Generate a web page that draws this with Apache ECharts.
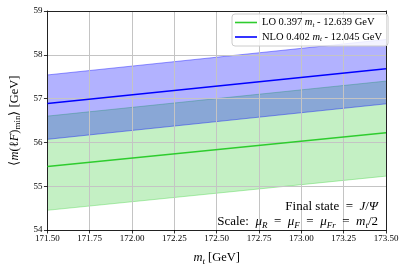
<!DOCTYPE html>
<html><head><meta charset="utf-8">
<script src="https://cdn.jsdelivr.net/npm/echarts@6/dist/echarts.min.js"></script>
<style>html,body{margin:0;padding:0;background:#fff}#c{width:407px;height:271px}</style>
</head><body><div id="c"></div>
<script>
// Data
const xVals = [171.5, 173.5];
const loCentral = [55.45, 56.22];
const loLower = [54.45, 55.23];
const loUpper = [56.60, 57.40];
const nloCentral = [56.89, 57.68];
const nloLower = [56.07, 56.88];
const nloUpper = [57.54, 58.35];
const xTicks = {min: 171.5, max: 173.5, step: 0.25};
const yTicks = {min: 54, max: 59, step: 1};

const FONT = 'Liberation Serif';
const pts = (ys) => xVals.map((x, i) => [x, ys[i]]);
const bandData = (lo, hi) => xVals.map((x, i) => [x, lo[i], hi[i]]);

function bandSeries(name, lo, hi, fill, edge) {
  return {
    name: name, type: 'custom', z: 1, silent: true,
    data: bandData(lo, hi),
    encode: {x: 0, y: [1, 2]},
    renderItem: function (params, api) {
      if (params.dataIndex !== 0) return null;
      const upper = xVals.map((x, i) => api.coord([x, hi[i]]));
      const lower = xVals.map((x, i) => api.coord([x, lo[i]])).reverse();
      return {
        type: 'group',
        children: [
          {type: 'polygon', shape: {points: upper.concat(lower)}, style: {fill: fill, stroke: null}},
          {type: 'polyline', shape: {points: upper}, style: {stroke: edge, lineWidth: 1, fill: null}},
          {type: 'polyline', shape: {points: lower}, style: {stroke: edge, lineWidth: 1, fill: null}}
        ]
      };
    }
  };
}

const rich = {
  i: {fontFamily: FONT, fontStyle: 'italic', fontSize: 13, color: '#000'},
  s: {fontFamily: FONT, fontStyle: 'italic', fontSize: 9, color: '#000', padding: [7, 0, 0, 0]}
};
const nameRich = {
  i: {fontFamily: FONT, fontStyle: 'italic', fontSize: 12.5, color: '#000'},
  s: {fontFamily: FONT, fontStyle: 'italic', fontSize: 9, color: '#000', padding: [7, 0, 0, 0]},
  r: {fontFamily: FONT, fontSize: 9, color: '#000', padding: [7, 0, 0, 0]}
};
const legRich = {
  i: {fontFamily: FONT, fontStyle: 'italic', fontSize: 10.5, color: '#000'},
  s: {fontFamily: FONT, fontStyle: 'italic', fontSize: 7, color: '#000', padding: [5, 0, 0, 0]}
};

const chart = echarts.init(document.getElementById('c'), null, {renderer: 'canvas'});
const axisCommon = {
  axisLine: {show: true, lineStyle: {color: '#222', width: 1}},
  axisTick: {show: true, inside: false, length: 3.5, lineStyle: {color: '#000', width: 0.8}},
  splitLine: {show: true, lineStyle: {color: '#c4c4c4', width: 1}},
  axisLabel: {fontFamily: FONT, fontSize: 9, color: '#000'}
};
chart.setOption({
  animation: false,
  backgroundColor: '#fff',
  grid: {left: 45, right: 21, top: 11, bottom: 38, containLabel: false},
  title: [
    {text: 'Final state  =  {i|J}/{i|Ψ}', right: 24, top: 195,
     textStyle: {fontFamily: FONT, fontSize: 13, fontWeight: 'normal', color: '#000', rich: rich}},
    {text: 'Scale:  {i|μ}{s|R}  =  {i|μ}{s|F}  =  {i|μ}{s|Fr}  =  {i|m}{s|t}/2', right: 24, top: 209,
     textStyle: {fontFamily: FONT, fontSize: 13, fontWeight: 'normal', color: '#000', rich: rich}}
  ],
  legend: {
    orient: 'vertical', left: 232, top: 14,
    data: ['LO', 'NLO'],
    icon: 'rect', itemWidth: 22, itemHeight: 1.6, itemGap: 3,
    padding: [3, 6, 3, 3],
    borderColor: '#cccccc', borderWidth: 1, borderRadius: 3, backgroundColor: 'rgba(255,255,255,0.85)',
    textStyle: {fontFamily: FONT, fontSize: 10.5, color: '#000', rich: legRich},
    formatter: (n) => n === 'LO' ? 'LO 0.397 {i|m}{s|t} - 12.639 GeV' : 'NLO 0.402 {i|m}{s|t} - 12.045 GeV'
  },
  xAxis: [
    Object.assign({}, axisCommon, {
      type: 'value', min: xTicks.min, max: xTicks.max, interval: xTicks.step, z: 2,
      axisLabel: Object.assign({}, axisCommon.axisLabel, {formatter: (v) => v.toFixed(2), margin: 4}),
      name: '{i|m}{s|t} [GeV]', nameLocation: 'middle', nameGap: 20,
      nameTextStyle: {fontFamily: FONT, fontSize: 12.5, color: '#000', rich: nameRich}
    }),
    {type: 'value', position: 'top', min: xTicks.min, max: xTicks.max, interval: xTicks.step, z: 2,
     axisLine: {show: true, lineStyle: {color: '#222', width: 1}}, axisTick: {show: false},
     axisLabel: {show: false}, splitLine: {show: false}}
  ],
  yAxis: [
    Object.assign({}, axisCommon, {
      type: 'value', min: yTicks.min, max: yTicks.max, interval: yTicks.step, z: 2,
      axisLabel: Object.assign({}, axisCommon.axisLabel, {margin: 5}),
      name: '⟨{i|m}(ℓ{i|F}){r|min}⟩ [GeV]', nameLocation: 'middle', nameGap: 16, nameRotate: 90,
      nameTextStyle: {fontFamily: FONT, fontSize: 12.5, color: '#000', rich: nameRich}
    }),
    {type: 'value', position: 'right', min: yTicks.min, max: yTicks.max, interval: yTicks.step, z: 2,
     axisLine: {show: true, lineStyle: {color: '#222', width: 1}}, axisTick: {show: false},
     axisLabel: {show: false}, splitLine: {show: false}}
  ],
  series: [
    bandSeries('LO band', loLower, loUpper, 'rgba(50,205,50,0.29)', 'rgba(50,205,50,0.35)'),
    bandSeries('NLO band', nloLower, nloUpper, 'rgba(0,0,255,0.3)', 'rgba(0,0,255,0.4)'),
    {name: 'LO', type: 'line', data: pts(loCentral), showSymbol: false, z: 3, color: '#2ecc2e',
     lineStyle: {color: '#2ecc2e', width: 1.5}},
    {name: 'NLO', type: 'line', data: pts(nloCentral), showSymbol: false, z: 3, color: '#0000ff',
     lineStyle: {color: '#0000ff', width: 1.5}}
  ]
});
</script></body></html>
